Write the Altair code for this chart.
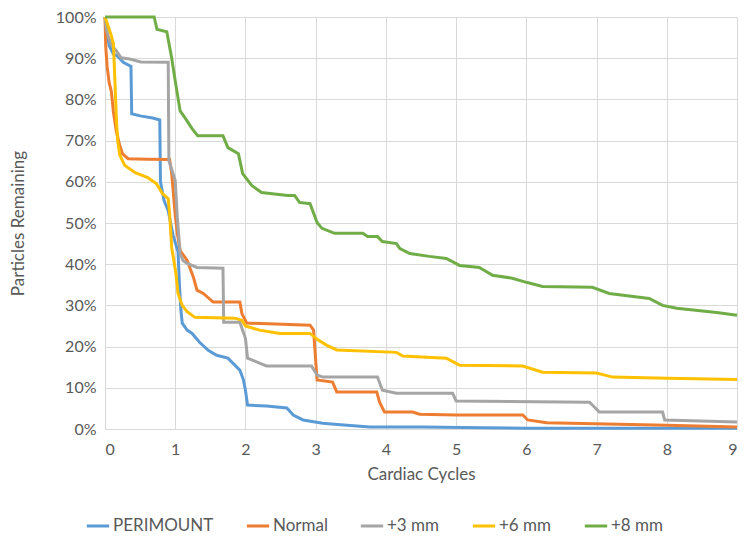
import altair as alt
import pandas as pd

series_names = ["PERIMOUNT", "Normal", "+3 mm", "+6 mm", "+8 mm"]
series_colors = ["#5B9BD5", "#ED7D31", "#A5A5A5", "#FFC000", "#70AD47"]

perimount_x = [0, 0.02, 0.06, 0.12, 0.18, 0.26, 0.37, 0.38, 0.5, 0.68, 0.78, 0.79, 0.84, 0.9, 0.97, 1.04,
               1.06, 1.08, 1.1, 1.17, 1.24, 1.35, 1.47, 1.59, 1.75, 1.92, 1.97, 2.0, 2.03, 2.3, 2.59, 2.68,
               2.82, 3.1, 3.4, 3.77, 4.5, 5.4, 6, 7, 8, 9]
perimount_y = [100, 97, 93, 91, 90.5, 89, 88, 76.5, 76, 75.5, 75, 60, 55.5, 53, 47, 43,
               35, 29, 25.7, 24, 23.2, 21, 19.1, 17.9, 17.2, 14.3, 12, 9.4, 5.8, 5.6, 5.1, 3.4,
               2.2, 1.4, 1.0, 0.5, 0.5, 0.3, 0.2, 0.2, 0.2, 0.2]

normal_x = [0, 0.01, 0.03, 0.06, 0.09, 0.12, 0.16, 0.21, 0.25, 0.33, 0.6, 0.92, 0.95, 0.98, 1.0, 1.03,
            1.07, 1.17, 1.26, 1.31, 1.4, 1.54, 1.92, 1.95, 2.02, 2.92, 2.97, 3.02, 3.24, 3.3, 3.87, 3.91,
            3.98, 4.38, 4.48, 5.0, 5.95, 6.02, 6.29, 7.14, 8.0, 9]
normal_y = [100, 93, 88, 84, 82, 77, 72.4, 68.8, 66.8, 65.6, 65.5, 65.4, 62, 56, 52, 47.5,
            43.3, 40.9, 36.8, 33.7, 32.9, 30.8, 30.8, 28, 25.7, 25.2, 24, 11.9, 11.4, 9, 9, 6.5,
            4.1, 4.1, 3.6, 3.4, 3.4, 2.2, 1.5, 1.2, 0.9, 0.5]

mm3_x = [0, 0.02, 0.05, 0.1, 0.16, 0.23, 0.35, 0.51, 0.9, 0.91, 0.95, 1.0, 1.03, 1.07, 1.11, 1.17,
         1.31, 1.68, 1.69, 1.92, 2.0, 2.03, 2.2, 2.3, 2.94, 3.02, 3.1, 3.88, 3.95, 4.15, 4.95, 5.0,
         6.9, 7.04, 7.94, 7.97, 9]
mm3_y = [100, 97, 95, 93, 91.8, 90.1, 89.8, 89.1, 89, 65.1, 63, 60.3, 51.3, 42.6, 40.9, 40.2,
         39.2, 39, 25.9, 25.9, 22, 17.2, 16, 15.3, 15.3, 13.1, 12.6, 12.6, 9.4, 8.7, 8.7, 6.8,
         6.5, 4.1, 4.1, 2.2, 1.7]

mm6_x = [0, 0.04, 0.08, 0.12, 0.14, 0.16, 0.18, 0.21, 0.28, 0.43, 0.61, 0.73, 0.82, 0.9, 0.92, 0.95,
         1.01, 1.04, 1.1, 1.17, 1.28, 1.85, 1.95, 2.0, 2.06, 2.2, 2.49, 2.92, 3.02, 3.16, 3.3, 4.15,
         4.24, 4.86, 5.05, 5.95, 6.23, 7.0, 7.23, 8.0, 9]
mm6_y = [100, 98, 96, 93.5, 85, 76, 70, 66.5, 64, 62.2, 61, 59.6, 57.1, 55.9, 52.3, 44,
         37.8, 32.9, 30, 28.5, 27.1, 26.9, 26.4, 25, 24.7, 24, 23.2, 23.2, 21.8, 20.3, 19.2, 18.6,
         17.7, 17.2, 15.5, 15.3, 13.8, 13.6, 12.6, 12.3, 12]

mm8_x = [0, 0.7, 0.74, 0.88, 0.95, 1.0, 1.07, 1.14, 1.24, 1.32, 1.68, 1.75, 1.9, 1.96, 2.09, 2.23,
         2.6, 2.7, 2.77, 2.92, 3.02, 3.09, 3.27, 3.67, 3.74, 3.88, 3.95, 4.15, 4.2, 4.34, 4.62, 4.86,
         5.05, 5.33, 5.52, 5.8, 6.0, 6.23, 6.94, 7.18, 7.75, 7.94, 8.14, 8.71, 9]
mm8_y = [100, 100, 97, 96.4, 90, 84.5, 77.2, 75.5, 72.9, 71.2, 71.2, 68.3, 66.8, 62, 59.1, 57.4,
         56.7, 56.7, 55, 54.7, 50.1, 48.7, 47.5, 47.5, 46.7, 46.7, 45.5, 45, 43.8, 42.6, 41.9, 41.4,
         39.7, 39.2, 37.3, 36.6, 35.6, 34.6, 34.4, 32.9, 31.7, 30, 29.3, 28.3, 27.6]

x_ticks = [0, 1, 2, 3, 4, 5, 6, 7, 8, 9]
y_ticks = [0, 0.1, 0.2, 0.3, 0.4, 0.5, 0.6, 0.7, 0.8, 0.9, 1.0]

rows = []
for name, xs, ys in zip(series_names,
                        [perimount_x, normal_x, mm3_x, mm6_x, mm8_x],
                        [perimount_y, normal_y, mm3_y, mm6_y, mm8_y]):
    for i, (xv, yv) in enumerate(zip(xs, ys)):
        rows.append({"series": name, "x": xv, "y": yv / 100.0, "i": i})
df = pd.DataFrame(rows)

FONT = "Lato"
TXT = "#595959"

chart = alt.Chart(df).mark_line(strokeWidth=3, interpolate="linear").encode(
    x=alt.X("x:Q", scale=alt.Scale(domain=[0, 9], nice=False),
            axis=alt.Axis(values=x_ticks, title="Cardiac Cycles", grid=True, domain=False, ticks=False,
                          labelPadding=12, titleY=45, titleBaseline="middle")),
    y=alt.Y("y:Q", scale=alt.Scale(domain=[0, 1], nice=False),
            axis=alt.Axis(values=y_ticks, format=".0%", title="Particles Remaining", grid=True,
                          domain=False, ticks=False, labelPadding=9, titleX=-87, titleBaseline="middle")),
    color=alt.Color("series:N", scale=alt.Scale(domain=series_names, range=series_colors),
                    legend=alt.Legend(title=None, orient="none", direction="horizontal",
                                      legendX=-20, legendY=496, symbolType="stroke",
                                      symbolStrokeWidth=3, symbolSize=500, labelOffset=2,
                                      columnPadding=26)),
    order=alt.Order("i:Q"),
).properties(
    width=632, height=412,
    padding={"left": 97, "top": 9, "right": 6, "bottom": 110},
    autosize=alt.AutoSizeParams(type="none"),
).configure_view(stroke=None).configure_axis(
    labelFont=FONT, titleFont=FONT, labelFontSize=16, titleFontSize=17,
    labelColor=TXT, titleColor=TXT, titleFontWeight="normal",
    gridColor="#D9D9D9", gridWidth=1,
).configure_legend(
    labelFont=FONT, labelFontSize=17, labelColor=TXT,
)

chart.save("out.html", embed_options={"renderer": "svg", "actions": False})
